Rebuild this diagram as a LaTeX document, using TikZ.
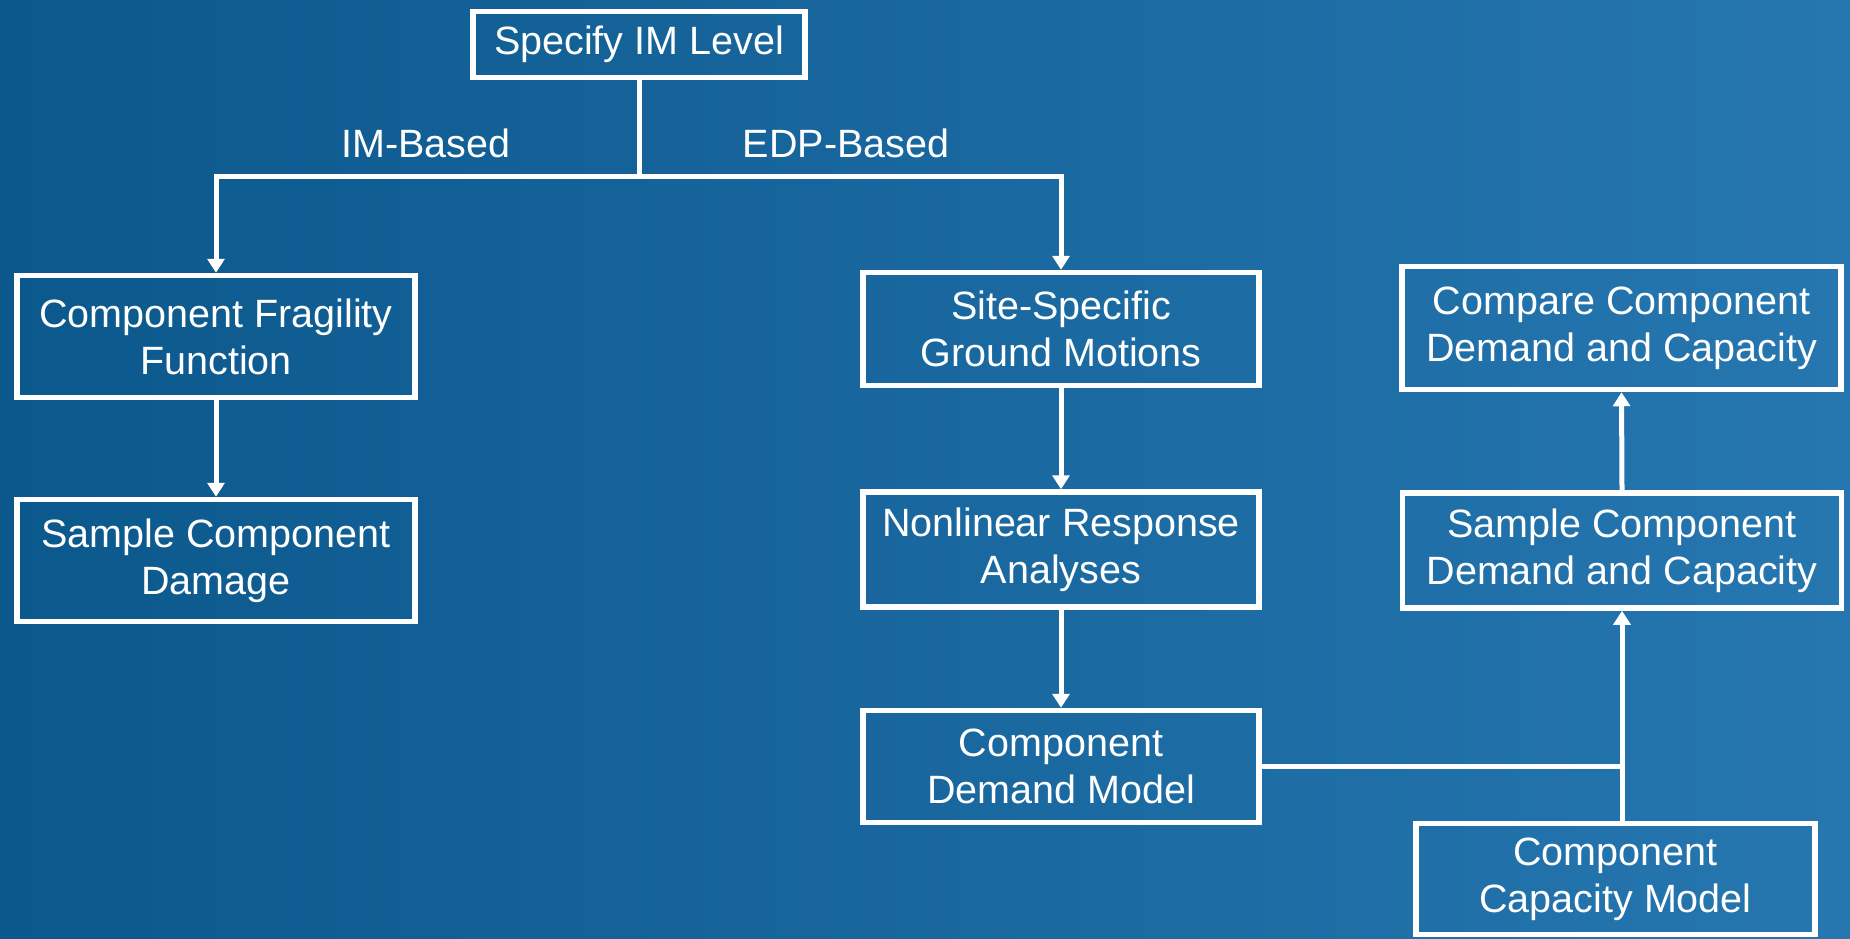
\documentclass[tikz,border=0pt]{standalone}
\usepackage{fontspec}
\setmainfont{Liberation Sans}
\usetikzlibrary{arrows.meta}
\definecolor{bgleft}{RGB}{11,88,140}
\definecolor{bgright}{RGB}{38,118,176}
\tikzset{
  box/.style={draw=white, line width=2.75pt, rectangle, inner sep=0pt,
    align=center, text=white, font=\fontsize{19.75pt}{23.6pt}\selectfont},
  lbl/.style={text=white, inner sep=0pt, font=\fontsize{19.75pt}{23.6pt}\selectfont},
  link/.style={draw=white, line width=2.5pt},
  arr/.style={link, -{Triangle[length=7pt, width=8.5pt]}}
}
\begin{document}
\begin{tikzpicture}[x=0.5pt, y=-0.5pt]
  % canvas with horizontal gradient
  \shade[left color=bgleft, right color=bgright] (0,0) rectangle (1850,938);
  \useasboundingbox (0,0) rectangle (1850,938);

  % boxes
  \node[box, minimum width=166pt, minimum height=33pt] (spec) at (639,44.5) {Specify IM Level};
  \node[box, minimum width=199pt, minimum height=61pt] (frag) at (216,336.5) {Component Fragility\\Function};
  \node[box, minimum width=199pt, minimum height=61pt] (dmg) at (216,560.5) {Sample Component\\Damage};
  \node[box, minimum width=198pt, minimum height=56.5pt] (site) at (1061,329) {Site-Specific\\Ground Motions};
  \node[box, minimum width=198pt, minimum height=57.5pt] (nonlin) at (1061,549.5) {Nonlinear Response\\Analyses};
  \node[box, minimum width=198pt, minimum height=56pt] (demand) at (1061,766.5) {Component\\Demand Model};
  \node[box, minimum width=219.5pt, minimum height=61.5pt] (compare) at (1621.5,328) {Compare Component\\Demand and Capacity};
  \node[box, minimum width=219.5pt, minimum height=57.5pt] (sampdc) at (1622,550.5) {Sample Component\\Demand and Capacity};
  \node[box, minimum width=199.5pt, minimum height=55.5pt] (capacity) at (1615.5,879) {Component\\Capacity Model};

  % branch labels
  \node[lbl] (imb) at (426,143) {IM-Based};
  \node[lbl] (edpb) at (846,143) {EDP-Based};

  % connectors
  \coordinate (split) at (639,176.5);
  \draw[link] (spec.south) -- (split);
  \draw[arr] (split) -| (frag.north);
  \draw[arr] (split) -| (site.north);
  \draw[arr] (frag.south) -- (dmg.north);
  \draw[arr] (site.south) -- (nonlin.north);
  \draw[arr] (nonlin.south) -- (demand.north);
  \draw[link] (demand.east) -- (demand.east -| sampdc.south);
  \draw[arr] (capacity.north -| sampdc.south) -- (sampdc.south);
  \draw[arr] (sampdc.north) -- (compare.south);
\end{tikzpicture}
\end{document}
